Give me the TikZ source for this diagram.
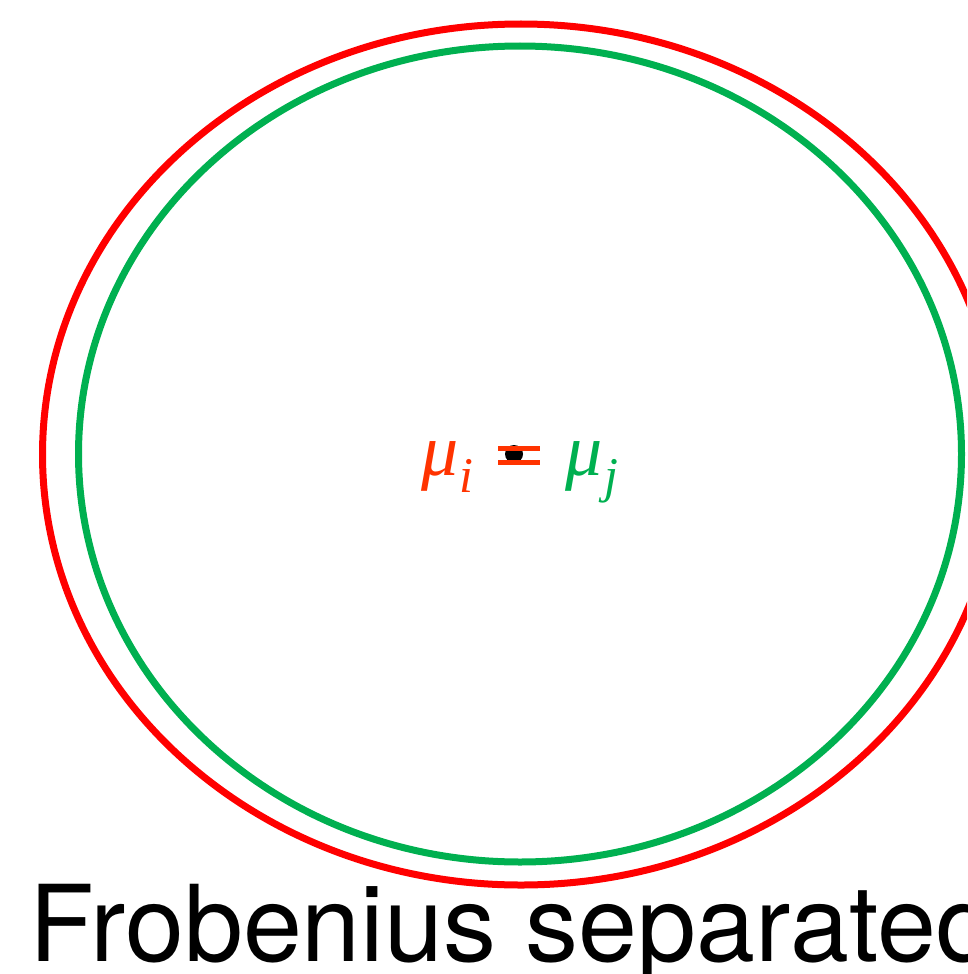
\documentclass[tikz,border=0pt]{standalone}
\usepackage{fontspec}
\setmainfont{TeX Gyre Heros}
\newfontfamily\greekfont{Liberation Serif}
\definecolor{ellred}{RGB}{255,0,0}
\definecolor{ellgreen}{RGB}{0,176,80}
\definecolor{mured}{RGB}{255,51,0}
\begin{document}
\begin{tikzpicture}[x=1pt,y=-1pt,
  ring/.style={line width=7pt},
  mulabel/.style={inner sep=0pt,anchor=base west,font=\greekfont\itshape\fontsize{74}{74}\selectfont},
  sublabel/.style={inner sep=0pt,anchor=base west,font=\greekfont\itshape\fontsize{50}{50}\selectfont},
  eqbar/.style={mured,line width=5pt}]
\useasboundingbox (0,0) rectangle (967,974);
\clip (0,0) rectangle (967,974);
\draw[ring,ellred] (521,454.5) ellipse [x radius=478.5,y radius=430.5];
\draw[ring,ellgreen] (520,454) ellipse [x radius=441.5,y radius=408];
\node[mulabel,text=mured] (mui) at (421,475) {μ};
\node[sublabel,text=mured] (subi) at (459,492) {i};
\fill[black] (514,454) circle [radius=9];
\coordinate (e1) at (498,448.7);
\coordinate (e2) at (540,448.7);
\coordinate (e3) at (498,462.2);
\coordinate (e4) at (540,462.2);
\draw[eqbar] (e1) -- (e2);
\draw[eqbar] (e3) -- (e4);
\node[mulabel,text=ellgreen] (muj) at (565,475) {μ};
\node[sublabel,text=ellgreen] (subj) at (604,492) {j};
\node[inner sep=0pt,anchor=base west,font=\fontsize{106}{106}\selectfont] (title) at (29,961) {Frobenius separated};
\end{tikzpicture}
\end{document}
